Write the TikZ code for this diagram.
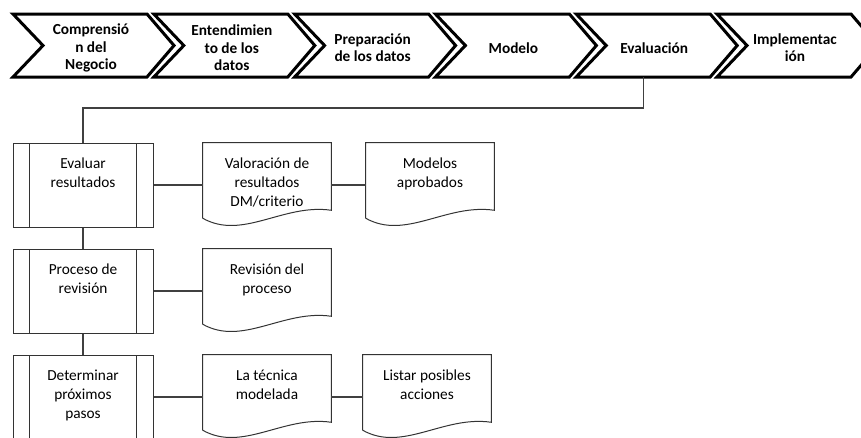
\documentclass[tikz,border=0pt]{standalone}
\usepackage{fontspec}
\setmainfont{Carlito}
\usetikzlibrary{positioning,calc}

% text set at the top of a fixed height box
\newcommand{\boxtext}[2]{\parbox[c][63pt][t]{#1}{\centering\vspace*{11pt}#2}}

\begin{document}
\begin{tikzpicture}[x=0.75pt,y=-0.75pt,
	chev/.style={draw=black,line width=2.25pt,miter limit=10},
	chevtext/.style={font=\fontsize{11.5}{13}\selectfont\bfseries,align=center,inner sep=0pt},
	proc/.style={draw=black!80,line width=0.75pt,minimum width=105pt,minimum height=63pt,inner sep=0pt,
		font=\fontsize{11.5}{14.5}\selectfont,
		path picture={\draw[black!80,line width=0.75pt]
			([xshift=12pt]path picture bounding box.north west) -- ([xshift=12pt]path picture bounding box.south west)
			([xshift=-12.75pt]path picture bounding box.north east) -- ([xshift=-12.75pt]path picture bounding box.south east);}},
	doc/.style={inner sep=0pt,minimum width=96pt,minimum height=63pt,font=\fontsize{11.5}{14.5}\selectfont},
	docline/.style={draw=black!80,line width=0.75pt},
	conn/.style={draw=black!75,line width=1pt}]
\clip (0,0) rectangle (861,437);
\def\period{140.8}

% phases
\foreach \lab [count=\i] in {{Comprensió\\n del\\Negocio},{Entendimien\\to de los\\datos},{Preparación\\de los datos},{Modelo},{Evaluación},{Implementac\\ión}}
{
	\pgfmathsetmacro\xa{13+(\i-1)*\period}
	\draw[chev] (\xa,14) -- ++(134,0) -- ++(27,31.5) -- ++(-27,31.5) -- ++(-134,0) -- ++(30,-31.5) -- cycle;
	\node[chevtext] (c\i) at (\xa+78,48) {\lab};
	\coordinate (c\i-s) at (\xa+67,77);
}

% tasks
\node[proc] (b1) at (83,185) {\boxtext{100pt}{Evaluar\\resultados}};
\node[proc] (b2) at (83,291) {\boxtext{100pt}{Proceso de\\revisión}};
\node[proc] (b3) at (83,397) {\boxtext{100pt}{Determinar\\próximos\\pasos}};

% outputs
\node[doc] (v1) at (267,185) {\boxtext{94pt}{Valoración de\\resultados\\DM/criterio}};
\node[doc] (m1) at (430,185) {\boxtext{94pt}{Modelos\\aprobados}};
\node[doc] (r1) at (267,291) {\boxtext{94pt}{Revisión del\\proceso}};
\node[doc] (t1) at (267,397) {\boxtext{94pt}{La técnica\\modelada}};
\node[doc] (l1) at (427,397) {\boxtext{94pt}{Listar posibles\\acciones}};

\foreach \d in {v1,m1,r1,t1,l1}
	\draw[docline] ([yshift=6.75pt]\d.south west) -- (\d.north west) -- (\d.north east) -- ([yshift=12.75pt]\d.south east)
		.. controls ([xshift=-36pt,yshift=18pt]\d.south east) and ([xshift=30pt,yshift=-10pt]\d.south west) .. ([yshift=6.75pt]\d.south west);

% connectors
\draw[conn] (c5-s) -- ++(0,31) -| (b1.north);
\draw[conn] (b1) -- (b2);
\draw[conn] (b2) -- (b3);
\draw[conn] (b1) -- (v1);
\draw[conn] (v1) -- (m1);
\draw[conn] (b2) -- (r1);
\draw[conn] (b3) -- (t1);
\draw[conn] (t1) -- (l1);

\end{tikzpicture}
\end{document}
